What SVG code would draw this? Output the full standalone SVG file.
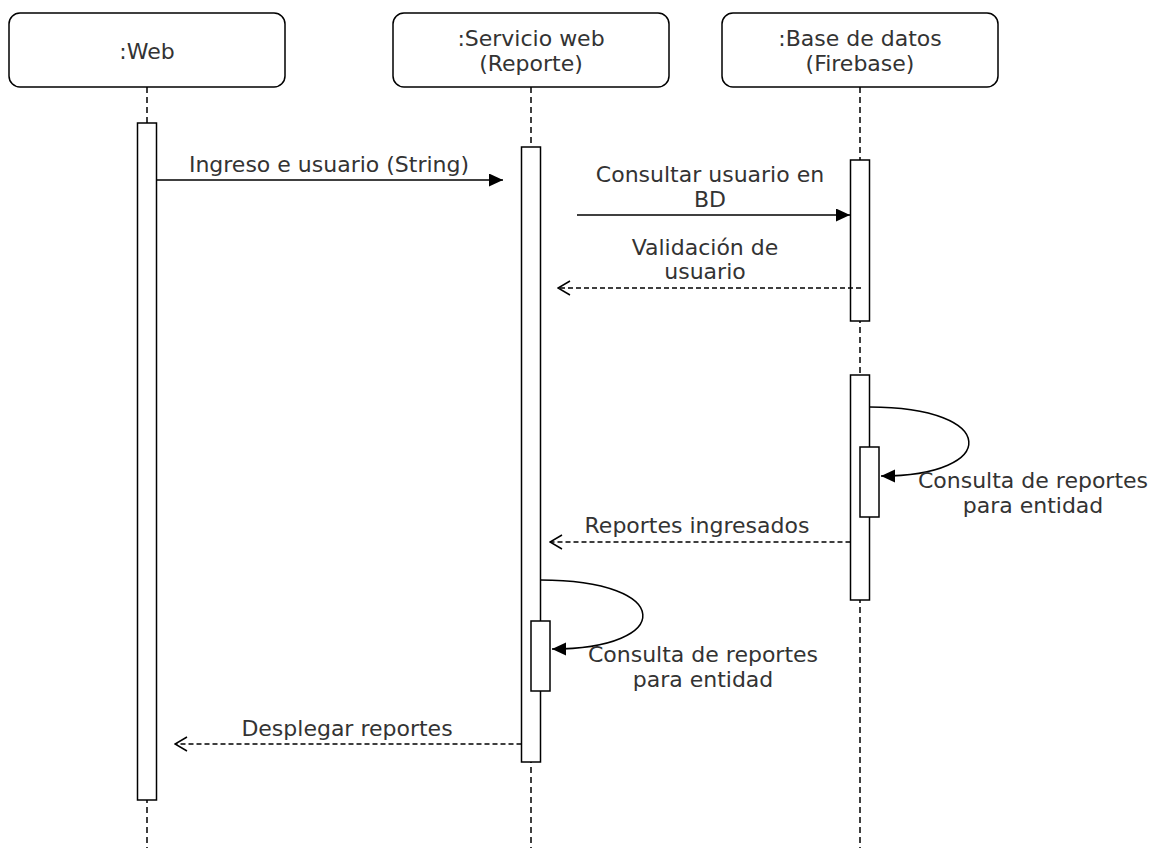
<svg xmlns="http://www.w3.org/2000/svg" width="1160" height="848" viewBox="0 0 1160 848">
<defs>
<style>
.box{fill:#fff;stroke:#000;stroke-width:1.5}
.life{stroke:#000;stroke-width:1.5;stroke-dasharray:6 4;fill:none}
.bar{fill:#fff;stroke:#000;stroke-width:1.5}
.msg{stroke:#000;stroke-width:1.5;fill:none}
.ret{stroke:#000;stroke-width:1.5;fill:none;stroke-dasharray:5 3}
text{font-family:"DejaVu Sans","Verdana",sans-serif;font-size:22px;fill:#333;text-anchor:middle}
</style>
<marker id="filled" markerUnits="userSpaceOnUse" markerWidth="15" markerHeight="14" refX="14" refY="6.5" orient="auto">
<path d="M0,0 L14,6.5 L0,13 z" fill="#000"/>
</marker>
<marker id="open" markerUnits="userSpaceOnUse" markerWidth="14" markerHeight="16" refX="12.5" refY="7.5" orient="auto">
<path d="M0.5,0.5 L12.5,7.5 L0.5,14.5" fill="none" stroke="#000" stroke-width="1.5"/>
</marker>
</defs>
<rect width="1160" height="848" fill="#fff"/>

<g id="web">
<rect class="box" x="9" y="13" width="276" height="74" rx="11"/>
<text x="147" y="59">:Web</text>
<line class="life" x1="147" y1="87" x2="147" y2="848"/>
<rect class="bar" x="137.5" y="123" width="19" height="677"/>
</g>

<g id="servicio">
<rect class="box" x="393" y="13" width="276" height="74" rx="11"/>
<text x="531" y="46">:Servicio web</text>
<text x="531" y="71">(Reporte)</text>
<line class="life" x1="531" y1="87" x2="531" y2="848"/>
<rect class="bar" x="521.5" y="147" width="19" height="615"/>
<rect class="bar" x="531" y="621" width="19" height="70"/>
</g>

<g id="base">
<rect class="box" x="722" y="13" width="276" height="74" rx="11"/>
<text x="860" y="46">:Base de datos</text>
<text x="860" y="71">(Firebase)</text>
<line class="life" x1="860" y1="87" x2="860" y2="848"/>
<rect class="bar" x="850.5" y="160" width="19" height="161"/>
<rect class="bar" x="850.5" y="375" width="19" height="225"/>
<rect class="bar" x="860" y="447" width="19" height="70"/>
</g>

<g id="connectors">
<line class="msg" x1="156.5" y1="180" x2="503" y2="180" marker-end="url(#filled)"/>
<line class="msg" x1="577" y1="215" x2="850" y2="215" marker-end="url(#filled)"/>
<line class="ret" x1="861" y1="288" x2="558" y2="288" marker-end="url(#open)"/>
<path class="msg" d="M869.5,407 C1000,407 1000,476 881,476" marker-end="url(#filled)"/>
<line class="ret" x1="850.5" y1="542" x2="550" y2="542" marker-end="url(#open)"/>
<path class="msg" d="M540.5,580 C675,580 675,649 552,649" marker-end="url(#filled)"/>
<line class="ret" x1="521.5" y1="744" x2="175" y2="744" marker-end="url(#open)"/>
</g>

<g id="labels">
<text x="329" y="172">Ingreso e usuario (String)</text>
<text x="710" y="182">Consultar usuario en</text>
<text x="710" y="207">BD</text>
<text x="705" y="255">Validación de</text>
<text x="705" y="279">usuario</text>
<text x="1033" y="488">Consulta de reportes</text>
<text x="1033" y="513">para entidad</text>
<text x="697" y="533">Reportes ingresados</text>
<text x="703" y="662">Consulta de reportes</text>
<text x="703" y="687">para entidad</text>
<text x="347" y="736">Desplegar reportes</text>
</g>
</svg>
